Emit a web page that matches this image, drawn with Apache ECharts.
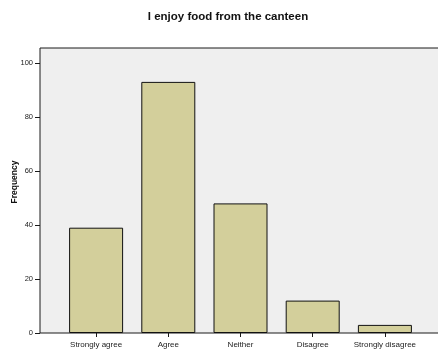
<!DOCTYPE html>
<html><head><meta charset="utf-8">
<script src="https://cdn.jsdelivr.net/npm/echarts@6/dist/echarts.min.js"></script>
<style>html,body{margin:0;padding:0;background:#fff}#c{width:438px;height:352px}</style>
</head><body><div id="c"></div>
<script>
const chartTitle = 'I enjoy food from the canteen';
const categories = ['Strongly agree', 'Agree', 'Neither', 'Disagree', 'Strongly disagree'];
const frequency = [39, 93, 48, 12, 3];
const yTicks = { min: 0, max: 100, interval: 20 };
const yName = 'Frequency';

const chart = echarts.init(document.getElementById('c'), null, { renderer: 'canvas' });
chart.setOption({
  animation: false,
  backgroundColor: '#ffffff',
  title: {
    text: chartTitle, left: 223, top: 6, textAlign: 'center',
    textStyle: { fontFamily: 'Liberation Sans', fontSize: 11.5, fontWeight: 'bold', color: '#111' }
  },
  grid: [
    { left: 40, right: -2, top: 48, bottom: 19, show: true, backgroundColor: '#efefef', borderColor: '#1a1a1a', borderWidth: 1, outerBoundsMode: 'none', containLabel: false },
    { left: 60, right: 17, top: 63, bottom: 19, outerBoundsMode: 'none', containLabel: false }
  ],
  xAxis: [
    { gridIndex: 0, type: 'value', show: false, min: 0, max: 1 },
    { gridIndex: 1, type: 'category', data: categories,
      axisLine: { show: false },
      axisTick: { show: true, alignWithLabel: true, length: 4, lineStyle: { color: '#1a1a1a' } },
      axisLabel: { margin: 8, fontFamily: 'Liberation Sans', fontSize: 8, color: '#222', interval: 0 }
    }
  ],
  yAxis: [
    { gridIndex: 0, type: 'value', show: false, min: 0, max: 1 },
    { gridIndex: 1, type: 'value', min: yTicks.min, max: yTicks.max, interval: yTicks.interval,
      offset: 20,
      name: yName, nameLocation: 'middle', nameGap: 21, nameMoveOverlap: false,
      nameTextStyle: { fontFamily: 'Liberation Sans', fontSize: 8.5, fontWeight: 'bold', color: '#111', padding: [0, 0, 0, 32] },
      axisLine: { show: false },
      axisTick: { show: true, length: 5, lineStyle: { color: '#1a1a1a' } },
      axisLabel: { margin: 7, fontFamily: 'Liberation Sans', fontSize: 7.5, color: '#222' },
      splitLine: { show: false }
    }
  ],
  series: [{
    type: 'bar', xAxisIndex: 1, yAxisIndex: 1, data: frequency,
    barWidth: 54,
    itemStyle: { color: '#d3cf9b', borderColor: '#111', borderWidth: 1 }
  }]
});
</script></body></html>
